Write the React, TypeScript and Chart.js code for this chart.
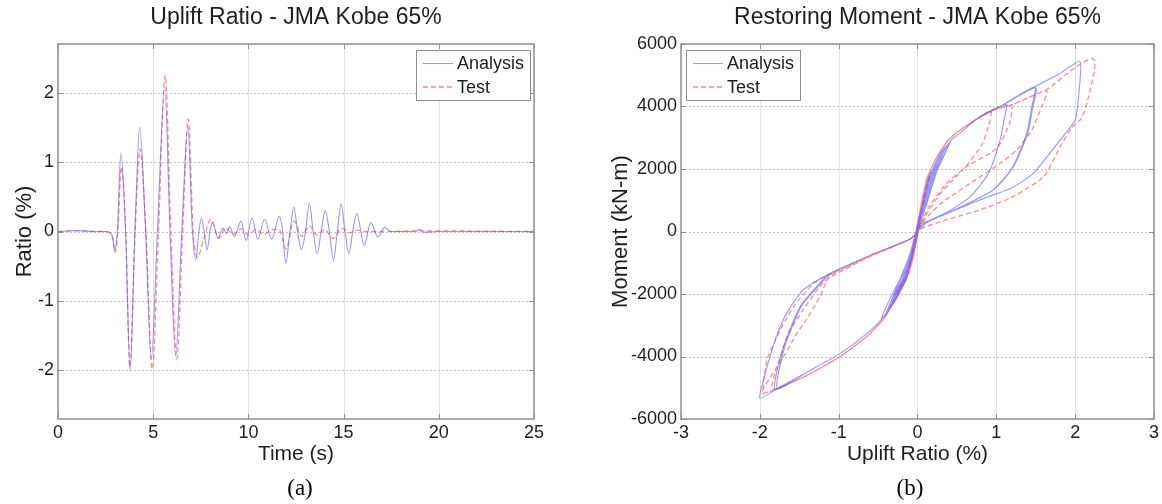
import React, { useEffect, useRef } from "react";
import { Chart, registerables } from "chart.js";

Chart.register(...registerables);

const SANS = "'Liberation Sans', Arial, Helvetica, sans-serif";
const SERIF = "'Liberation Serif', 'Times New Roman', serif";
const TEXT = "#1e1e1e";
const BLUE = "rgba(80,80,255,0.6)";
const RED = "rgba(255,70,70,0.62)";

// ---- tick labels ----
const timeTicks = [0, 5, 10, 15, 20, 25];
const ratioTicks = [-2, -1, 0, 1, 2];
const upliftTicks = [-3, -2, -1, 0, 1, 2, 3];
const momentTicks = [-6000, -4000, -2000, 0, 2000, 4000, 6000];

// ---- (a) uplift ratio time history ----
const timeAnalysis = [0, 1.0, 2.0, 2.5, 2.75, 2.88, 2.97, 3.12, 3.3, 3.55, 3.79, 4.04, 4.29, 4.6, 4.9, 5.22, 5.61, 5.88, 6.18, 6.5, 6.82, 7.06, 7.24, 7.4, 7.53, 7.68, 7.83, 7.98, 8.12, 8.41, 8.65, 8.85, 9.0, 9.28, 9.61, 9.88, 10.19, 10.49, 10.85, 11.22, 11.63, 11.8, 11.96, 12.18, 12.39, 12.58, 12.78, 13.0, 13.2, 13.4, 13.61, 13.82, 14.04, 14.25, 14.47, 14.67, 14.87, 15.07, 15.28, 15.48, 15.69, 16.08, 16.43, 16.8, 17.15, 17.5, 18.0, 18.8, 19.0, 19.2, 20, 25];
const ratioAnalysis = [0, 0.01, 0, 0, -0.02, -0.1, -0.28, 0, 1.13, 0, -2.0, 0, 1.5, 0, -1.84, 0, 2.08, 0, -1.78, 0, 1.5, 0, -0.41, 0, 0.19, 0, -0.27, 0, 0.14, -0.1, 0.05, -0.03, 0.07, -0.07, 0.15, -0.13, 0.19, -0.11, 0.18, -0.11, 0.22, 0, -0.46, 0, 0.35, 0, -0.26, 0, 0.41, 0, -0.32, 0, 0.3, 0, -0.41, 0, 0.4, 0, -0.32, 0, 0.26, -0.2, 0.13, -0.08, 0.06, 0, 0, 0, 0.03, -0.01, 0, 0];
const timeTest = [0, 1.0, 2.0, 2.5, 2.75, 2.9, 3.0, 3.14, 3.33, 3.56, 3.77, 4.05, 4.3, 4.62, 4.95, 5.28, 5.63, 5.93, 6.24, 6.55, 6.84, 7.1, 7.32, 7.64, 8.02, 8.45, 8.8, 9.2, 9.6, 10.0, 10.4, 10.8, 11.2, 11.6, 11.97, 12.4, 12.8, 13.2, 13.6, 14.0, 14.45, 14.9, 15.3, 15.7, 16.1, 17, 19, 25];
const ratioTest = [0, 0.01, 0, 0, -0.02, -0.12, -0.3, 0, 0.93, 0, -1.95, 0, 1.19, 0, -1.98, 0, 2.25, 0, -1.84, 0, 1.62, 0, -0.37, -0.12, 0.17, -0.1, 0.05, -0.04, 0.04, -0.05, 0.03, -0.04, 0.02, 0.03, -0.25, 0.15, -0.07, 0.08, -0.05, 0.03, -0.1, 0.05, -0.02, 0.02, 0, 0, 0.01, 0];

// ---- (b) restoring moment vs uplift ratio [uplift %, moment kN-m] ----
const analysisLoop: [number, number][] = [
  [0, 0], [-0.14, -1340], [-0.28, -2000],
  [-0.14, -1300], [0, 0], [0.05, 600], [0.14, 1550], [0.29, 2400], [0.43, 2930], [0.54, 3150], [0.75, 3600], [0.95, 3900], [1.13, 4050],
  [1.1, 3600], [1.05, 2950], [0.9, 1860], [0.67, 1114], [0.4, 650], [0.1, 280], [0, 0],
  [-0.05, -600], [-0.14, -1340], [-0.29, -2090], [-0.43, -2730], [-0.64, -3258], [-0.98, -3900], [-1.4, -4500], [-1.74, -4966], [-2.0, -5338],
  [-1.93, -4530], [-1.79, -3366], [-1.66, -2620], [-1.45, -1870], [-1.15, -1390], [-0.6, -760], [-0.1, -250], [0, 0],
  [0.05, 600], [0.14, 1550], [0.29, 2400], [0.43, 2930], [0.54, 3150], [0.75, 3600], [1.05, 4000], [1.49, 4634],
  [1.45, 3994], [1.385, 3142], [1.21, 2074], [0.96, 1328], [0.6, 850], [0.3, 500], [0.05, 240], [0, 0],
  [-0.05, -600], [-0.14, -1340], [-0.29, -2090], [-0.43, -2730], [-0.64, -3258], [-0.98, -3900], [-1.4, -4500], [-1.81, -5072],
  [-1.7, -3686], [-1.49, -2406], [-1.24, -1658], [-1.11, -1360], [-0.6, -760], [-0.1, -250], [0, 0],
  [0.05, 600], [0.14, 1550], [0.29, 2400], [0.43, 2930], [0.54, 3150], [0.75, 3600], [1.05, 4000], [1.49, 4634], [1.8, 5050], [2.06, 5434],
  [2.05, 4500], [2.0, 3570], [1.81, 2930], [1.47, 1870], [1.2, 1400], [0.79, 1010], [0.4, 600], [0.12, 283], [0, 0],
  [-0.05, -600], [-0.14, -1340], [-0.29, -2090], [-0.43, -2730], [-0.64, -3258], [-0.98, -3900], [-1.4, -4500], [-1.78, -5000],
  [-1.68, -3650], [-1.47, -2380], [-1.22, -1640], [-1.1, -1350], [-0.6, -760], [-0.1, -250], [0, 0],
  [0.05, 600], [0.14, 1550], [0.29, 2400], [0.43, 2930], [0.54, 3150], [0.75, 3600], [1.05, 4000], [1.5, 4600],
  [1.46, 3950], [1.4, 3150], [1.22, 2080], [0.97, 1340], [0.6, 850], [0.3, 500], [0.05, 240], [0, 0],
  [-0.05, -600], [-0.14, -1340], [-0.29, -2090], [-0.41, -2700],
  [-0.2, -1750], [0, 0], [0.08, 1100], [0.19, 1950],
  [0.08, 800], [0, 0], [-0.14, -1250], [-0.27, -1950],
  [-0.12, -1200], [0, 0], [0.14, 1400],
  [0.05, 500], [-0.1, -1000], [0.07, 850], [-0.07, -800], [0.15, 1600], [-0.13, -1300], [0.19, 1900], [-0.11, -1100], [0.18, 1850], [-0.11, -1150], [0.22, 2050],
  [0.1, 1050], [0, 0], [-0.14, -1500], [-0.29, -2250], [-0.46, -2800],
  [-0.3, -1900], [-0.14, -1150], [0, 0], [0.14, 1700], [0.35, 2650],
  [0.2, 1800], [0.05, 400], [-0.1, -1150], [-0.26, -2000],
  [-0.1, -850], [0.05, 750], [0.14, 1650], [0.29, 2500], [0.41, 2850],
  [0.25, 2000], [0.1, 800], [0, 0], [-0.14, -1500], [-0.32, -2300],
  [-0.15, -1100], [0, 0], [0.14, 1450], [0.3, 2300],
  [0.15, 1550], [0, 0], [-0.14, -1350], [-0.29, -2050], [-0.41, -2700],
  [-0.25, -1700], [-0.1, -750], [0.05, 700], [0.14, 1650], [0.29, 2450], [0.4, 2780],
  [0.25, 1950], [0.1, 750], [0, 0], [-0.14, -1450], [-0.32, -2200],
  [-0.15, -1100], [0, 0], [0.14, 1600], [0.26, 2150],
  [0.1, 900], [-0.05, -550], [-0.2, -1650],
  [-0.05, -400], [0.13, 1450], [-0.08, -900], [0.06, 700], [0, 0],
];

const testLoop: [number, number][] = [
  [0, 0], [-0.15, -1450], [-0.3, -2050],
  [-0.14, -1350], [0, 0], [0.05, 900], [0.12, 1700], [0.25, 2400], [0.4, 2950], [0.6, 3350], [0.93, 3850],
  [0.9, 3350], [0.82, 2800], [0.62, 2100], [0.3, 1250], [0.1, 500], [0, 0],
  [-0.05, -800], [-0.14, -1500], [-0.29, -2200], [-0.43, -2800], [-0.64, -3350], [-0.98, -4000], [-1.4, -4600], [-1.75, -5000], [-1.95, -5150],
  [-1.91, -4112], [-1.74, -3152], [-1.57, -2400], [-1.32, -1658], [-1.15, -1420], [-0.6, -780], [-0.1, -250], [0, 0],
  [0.05, 900], [0.12, 1700], [0.25, 2400], [0.4, 2950], [0.6, 3350], [0.93, 3850], [1.19, 4050],
  [1.17, 3462], [1.025, 2714], [0.92, 2502], [0.62, 2074], [0.37, 1542], [0.15, 800], [0, 0],
  [-0.05, -800], [-0.14, -1500], [-0.29, -2200], [-0.43, -2800], [-0.64, -3350], [-0.98, -4000], [-1.4, -4600], [-1.75, -5000], [-1.98, -5178],
  [-1.7, -4006], [-1.53, -3258], [-1.41, -2832], [-1.24, -2086], [-1.11, -1440], [-0.6, -800], [-0.1, -250], [0, 0],
  [0.05, 900], [0.12, 1700], [0.25, 2400], [0.4, 2950], [0.6, 3350], [0.93, 3850], [1.19, 4050], [1.64, 4550], [2.0, 5250], [2.21, 5542],
  [2.25, 5450], [2.24, 5100], [2.16, 4208], [2.08, 3622], [1.95, 3300], [1.81, 2714], [1.6, 1754], [1.21, 1114], [0.79, 688], [0.4, 400], [0.1, 150], [0, 0],
  [-0.05, -800], [-0.14, -1500], [-0.29, -2200], [-0.43, -2800], [-0.64, -3350], [-0.98, -4000], [-1.4, -4600], [-1.84, -5050],
  [-1.78, -4300], [-1.62, -3200], [-1.45, -2500], [-1.22, -1700], [-1.1, -1450], [-0.6, -800], [-0.1, -250], [0, 0],
  [0.05, 900], [0.12, 1700], [0.25, 2400], [0.4, 2950], [0.6, 3350], [0.93, 3850], [1.19, 4050], [1.64, 4500],
  [1.575, 3994], [1.45, 3248], [1.26, 2608], [1.05, 2182], [0.67, 1542], [0.3, 900], [0.1, 400], [0, 0],
  [-0.05, -800], [-0.14, -1500], [-0.29, -2200], [-0.37, -2550],
  [-0.15, -1400], [0, 0], [0.05, 900], [0.17, 1950], [0.05, 700], [-0.1, -1100], [0.05, 900], [-0.04, -600], [0.04, 700], [-0.05, -700],
  [0.03, 600], [-0.04, -600], [0.03, 500], [-0.1, -1300], [-0.25, -2000], [-0.1, -1100], [0.05, 900], [0.15, 1800], [0.05, 600],
  [-0.07, -900], [0.08, 1200], [-0.05, -700], [0.03, 500], [-0.1, -1200], [0.05, 900], [-0.02, -400], [0, 0],
];

type FrameCfg = {
  title: string;
  caption: string;
  captionX: number;
  xTicks: number[];
  yTicks: number[];
  legendSide: "left" | "right";
};

function framePlugin(cfg: FrameCfg) {
  return {
    id: "frame",
    beforeDatasetsDraw(chart: any) {
      const { ctx, chartArea: a, scales } = chart;
      const xs = scales.x;
      const ys = scales.y;
      ctx.save();
      ctx.lineWidth = 1;
      ctx.strokeStyle = "#e0e0e0";
      for (const v of cfg.xTicks) {
        const px = Math.round(xs.getPixelForValue(v)) + 0.5;
        if (px < a.left + 2 || px > a.right - 2) continue;
        ctx.beginPath();
        ctx.moveTo(px, a.top);
        ctx.lineTo(px, a.bottom);
        ctx.stroke();
      }
      ctx.strokeStyle = "#c2c2c2";
      ctx.setLineDash([2, 2]);
      for (const v of cfg.yTicks) {
        const py = Math.round(ys.getPixelForValue(v)) + 0.5;
        if (py < a.top + 2 || py > a.bottom - 2) continue;
        ctx.beginPath();
        ctx.moveTo(a.left, py);
        ctx.lineTo(a.right, py);
        ctx.stroke();
      }
      ctx.restore();
    },
    afterDatasetsDraw(chart: any) {
      const { ctx, chartArea: a, scales } = chart;
      const xs = scales.x;
      const ys = scales.y;
      ctx.save();
      ctx.setLineDash([]);
      ctx.strokeStyle = "#8f8f8f";
      ctx.lineWidth = 1.5;
      ctx.strokeRect(a.left, a.top, a.right - a.left, a.bottom - a.top);
      ctx.lineWidth = 1;
      const tl = 5;
      for (const v of cfg.xTicks) {
        const px = Math.round(xs.getPixelForValue(v)) + 0.5;
        ctx.beginPath();
        ctx.moveTo(px, a.top);
        ctx.lineTo(px, a.top + tl);
        ctx.moveTo(px, a.bottom);
        ctx.lineTo(px, a.bottom - tl);
        ctx.stroke();
      }
      for (const v of cfg.yTicks) {
        const py = Math.round(ys.getPixelForValue(v)) + 0.5;
        ctx.beginPath();
        ctx.moveTo(a.left, py);
        ctx.lineTo(a.left + tl, py);
        ctx.moveTo(a.right, py);
        ctx.lineTo(a.right - tl, py);
        ctx.stroke();
      }
      // legend
      const w = 114;
      const h = 50;
      const bx = cfg.legendSide === "right" ? a.right - 4 - w : a.left + 5;
      const by = a.top + 6;
      ctx.fillStyle = "#ffffff";
      ctx.fillRect(bx, by, w, h);
      ctx.strokeStyle = "#8f8f8f";
      ctx.lineWidth = 1;
      ctx.strokeRect(bx + 0.5, by + 0.5, w, h);
      chart.data.datasets.forEach((ds: any, i: number) => {
        const y = by + 13.5 + i * 23.5;
        ctx.strokeStyle = ds.borderColor;
        ctx.lineWidth = ds.borderWidth;
        ctx.setLineDash(ds.borderDash || []);
        ctx.beginPath();
        ctx.moveTo(bx + 7, y);
        ctx.lineTo(bx + 37, y);
        ctx.stroke();
        ctx.setLineDash([]);
        ctx.fillStyle = TEXT;
        ctx.font = `18px ${SANS}`;
        ctx.textBaseline = "middle";
        ctx.textAlign = "left";
        ctx.fillText(ds.label, bx + 41, y + 1);
      });
      // title & caption
      const cx = (a.left + a.right) / 2;
      ctx.fillStyle = TEXT;
      ctx.textAlign = "center";
      ctx.textBaseline = "middle";
      ctx.font = `23px ${SANS}`;
      ctx.fillText(cfg.title, cx, 18);
      ctx.fillStyle = "#000";
      ctx.font = `23px ${SERIF}`;
      ctx.fillText(cfg.caption, cfg.captionX, 489);
      ctx.restore();
    },
  };
}

function axis(
  min: number,
  max: number,
  ticks: number[],
  title: string,
  horizontal: boolean,
  size: number,
  titlePad: number
) {
  return {
    type: "linear" as const,
    min,
    max,
    afterBuildTicks: (s: any) => {
      s.ticks = ticks.map((v) => ({ value: v }));
    },
    afterFit: (s: any) => {
      if (horizontal) s.height = size;
      else s.width = size;
    },
    grid: { display: false, drawTicks: false },
    border: { display: false },
    ticks: {
      font: { size: 18, family: SANS },
      color: TEXT,
      padding: horizontal ? 3 : 4,
      maxRotation: 0,
      autoSkip: false,
      callback: (v: any) => String(v),
    },
    title: {
      display: true,
      text: title,
      font: { size: horizontal ? 21 : 22, family: SANS },
      color: TEXT,
      padding: horizontal ? { top: 0, bottom: titlePad } : { top: titlePad, bottom: 0 },
    },
  };
}

export default function App() {
  const leftRef = useRef<HTMLCanvasElement>(null);
  const rightRef = useRef<HTMLCanvasElement>(null);

  useEffect(() => {
    const c1 = leftRef.current!;
    const c2 = rightRef.current!;
    const left = new Chart(c1, {
      type: "line",
      data: {
        datasets: [
          {
            label: "Analysis",
            data: timeAnalysis.map((t, i) => ({ x: t, y: ratioAnalysis[i] })),
            borderColor: BLUE,
            borderWidth: 1.1,
            pointRadius: 0,
            cubicInterpolationMode: "monotone",
            fill: false,
          },
          {
            label: "Test",
            data: timeTest.map((t, i) => ({ x: t, y: ratioTest[i] })),
            borderColor: RED,
            borderWidth: 1.3,
            borderDash: [5, 3],
            pointRadius: 0,
            cubicInterpolationMode: "monotone",
            fill: false,
          },
        ],
      },
      options: {
        responsive: false,
        animation: false,
        events: [],
        layout: { padding: { top: 44, right: 46, bottom: 0, left: 0 } },
        plugins: { legend: { display: false }, title: { display: false }, tooltip: { enabled: false } },
        scales: {
          x: axis(0, 25, timeTicks, "Time (s)", true, 85, 37),
          y: axis(-2.7, 2.7, ratioTicks, "Ratio (%)", false, 58, 12),
        },
      } as any,
      plugins: [
        framePlugin({
          title: "Uplift Ratio - JMA Kobe 65%",
          caption: "(a)",
          captionX: 300,
          xTicks: timeTicks,
          yTicks: ratioTicks,
          legendSide: "right",
        }),
      ],
    });

    const right = new Chart(c2, {
      type: "scatter",
      data: {
        datasets: [
          {
            label: "Analysis",
            data: analysisLoop.map(([u, m]) => ({ x: u, y: m })),
            borderColor: BLUE,
            borderWidth: 1.1,
            pointRadius: 0,
            showLine: true,
            tension: 0.2,
            fill: false,
          },
          {
            label: "Test",
            data: testLoop.map(([u, m]) => ({ x: u, y: m })),
            borderColor: RED,
            borderWidth: 1.3,
            borderDash: [5, 3],
            pointRadius: 0,
            showLine: true,
            tension: 0.2,
            fill: false,
          },
        ],
      },
      options: {
        responsive: false,
        animation: false,
        events: [],
        layout: { padding: { top: 44, right: 8, bottom: 0, left: 0 } },
        plugins: { legend: { display: false }, title: { display: false }, tooltip: { enabled: false } },
        scales: {
          x: axis(-3, 3, upliftTicks, "Uplift Ratio (%)", true, 85, 37),
          y: axis(-6000, 6000, momentTicks, "Moment (kN-m)", false, 101, 28),
        },
      } as any,
      plugins: [
        framePlugin({
          title: "Restoring Moment - JMA Kobe 65%",
          caption: "(b)",
          captionX: 330,
          xTicks: upliftTicks,
          yTicks: momentTicks,
          legendSide: "left",
        }),
      ],
    });

    return () => {
      left.destroy();
      right.destroy();
    };
  }, []);

  return (
    <div
      style={{
        position: "absolute",
        left: 0,
        top: 0,
        width: 1162,
        height: 504,
        background: "#fff",
        overflow: "hidden",
      }}
    >
      <canvas
        ref={leftRef}
        width={580}
        height={504}
        style={{ position: "absolute", left: 0, top: 0, width: 580, height: 504, display: "block" }}
      />
      <canvas
        ref={rightRef}
        width={582}
        height={504}
        style={{ position: "absolute", left: 580, top: 0, width: 582, height: 504, display: "block" }}
      />
    </div>
  );
}
